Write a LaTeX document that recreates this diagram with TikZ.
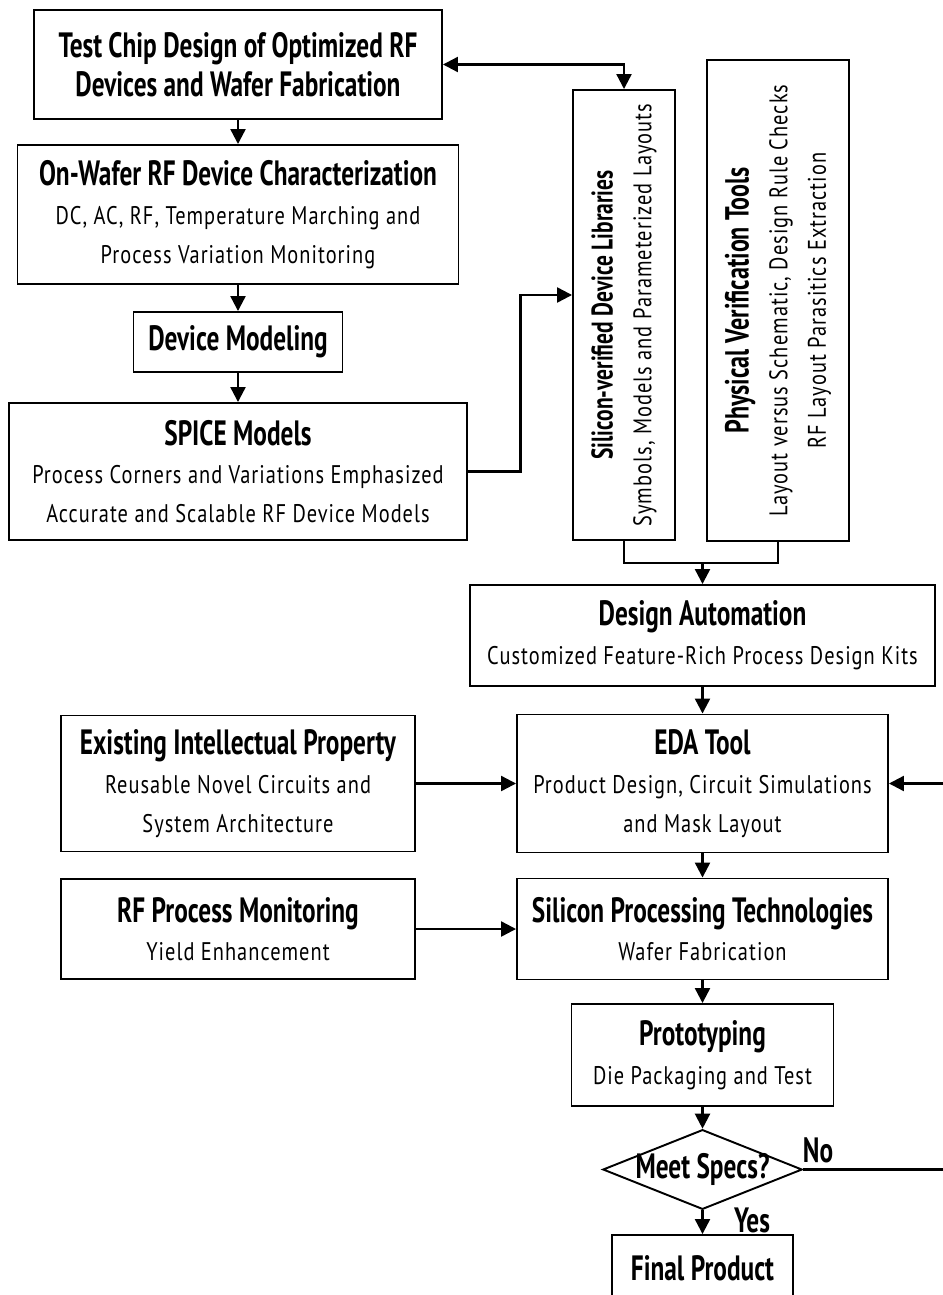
\documentclass[tikz,border=0pt]{standalone}
\usepackage{fontspec}
\setmainfont{PT Sans}
\newfontfamily\headfont{PT Sans}[FakeStretch=0.72]
\newfontfamily\notefont{PT Sans}[FakeStretch=0.8, LetterSpace=4.0]
\newcommand{\hd}[2][20]{{\headfont\bfseries\fontsize{#1}{22}\selectfont #2}}
\newcommand{\nt}[1]{{\notefont\fontsize{14.5}{22}\selectfont #1}}
\usetikzlibrary{arrows.meta, shapes.geometric}

\begin{document}
\begin{tikzpicture}[
		line width=1.1pt,
		>={Triangle[length=0.3cm, width=0.3cm]},
		every node/.style={draw, rectangle, align=center, inner sep=2pt, font=\fontsize{14}{22}\selectfont},
		tag/.style={draw=none, inner sep=0pt},
		link/.style={->, line width=1.3pt}
	]
  \useasboundingbox (0,0) rectangle (18.86,-25.9);
  \clip (0,0) rectangle (18.86,-25.9);
  \node (test) [minimum width=8.16cm, minimum height=2.18cm] at (4.76cm, -1.29cm) {\hd{Test Chip Design of Optimized RF}\\\hd{Devices and Wafer Fabrication}};
  \node (wafer) [minimum width=8.82cm, minimum height=2.78cm] at (4.76cm, -4.29cm) {\hd{On-Wafer RF Device Characterization}\\\nt{DC, AC, RF, Temperature Marching and}\\\nt{Process Variation Monitoring}};
  \node (model) [minimum width=4.18cm, minimum height=1.2cm] at (4.76cm, -6.84cm) {\hd{Device Modeling}};
  \node (spice) [minimum width=9.16cm, minimum height=2.74cm] at (4.76cm, -9.43cm) {\hd{SPICE Models}\\\nt{Process Corners and Variations Emphasized}\\\nt{Accurate and Scalable RF Device Models}};
  \node (silib) [rotate=90, minimum width=9cm, minimum height=2.04cm] at (12.48cm, -6.3cm) {\hd[17]{Silicon-verified Device Libraries}\\\nt{Symbols, Models and Parameterized Layouts}};
  \node (phys) [rotate=90, minimum width=9.62cm, minimum height=2.84cm] at (15.56cm, -6.01cm) {\hd[19]{Physical Verification Tools}\\\nt{Layout versus Schematic, Design Rule Checks}\\\nt{RF Layout Parasitics Extraction}};
  \node (dauto) [minimum width=9.3cm, minimum height=2.02cm] at (14.05cm, -12.71cm) {\hd{Design Automation}\\\nt{Customized Feature-Rich Process Design Kits}};
  \node (ip) [minimum width=7.08cm, minimum height=2.72cm] at (4.76cm, -15.67cm) {\hd{Existing Intellectual Property}\\\nt{Reusable Novel Circuits and}\\\nt{System Architecture}};
  \node (eda) [minimum width=7.42cm, minimum height=2.76cm] at (14.05cm, -15.67cm) {\hd{EDA Tool}\\\nt{Product Design, Circuit Simulations}\\\nt{and Mask Layout}};
  \node (rfmon) [minimum width=7.08cm, minimum height=2cm] at (4.76cm, -18.58cm) {\hd{RF Process Monitoring}\\\nt{Yield Enhancement}};
  \node (sipt) [minimum width=7.42cm, minimum height=2.02cm] at (14.05cm, -18.58cm) {\hd{Silicon Processing Technologies}\\\nt{Wafer Fabrication}};
  \node (proto) [minimum width=5.24cm, minimum height=2.04cm] at (14.05cm, -21.1cm) {\hd{Prototyping}\\\nt{Die Packaging and Test}};
  \node (specs) [diamond, aspect=2.5, inner xsep=-0.15cm, inner ysep=0pt, minimum width=3.86cm, minimum height=1.54cm] at (14.05cm, -23.39cm) {\hd{Meet Specs?}};
  \node (final) [minimum width=3.62cm, minimum height=1.32cm] at (14.05cm, -25.36cm) {\hd{Final Product}};
  \node (no) [tag] at (16.36cm, -23.0cm) {\hd{No}};
  \node (yes) [tag] at (15.04cm, -24.4cm) {\hd{Yes}};
  \coordinate (mrg) at (14.05cm, -11.26cm);
  \draw[link] (test) -- (wafer);
  \draw[link] (wafer) -- (model);
  \draw[link] (model) -- (spice);
  \draw[link, <->] (test.east) -| (silib.east);
  \draw[link] (spice.east) -- ++(1.05,0) |- ([yshift=0.4cm]silib.north);
  \draw[line width=1.3pt] (silib.west) |- (mrg) -| (phys.west);
  \draw[link] (mrg) -- (dauto);
  \draw[link] (dauto) -- (eda);
  \draw[link] (ip) -- (eda);
  \draw[link] (eda) -- (sipt);
  \draw[link] (rfmon) -- (sipt);
  \draw[link] (sipt) -- (proto);
  \draw[link] (proto) -- (specs);
  \draw[link] (specs) -- (final);
  \draw[link] (specs.east) -- ++(3,0) |- (eda.east);
\end{tikzpicture}
\end{document}
